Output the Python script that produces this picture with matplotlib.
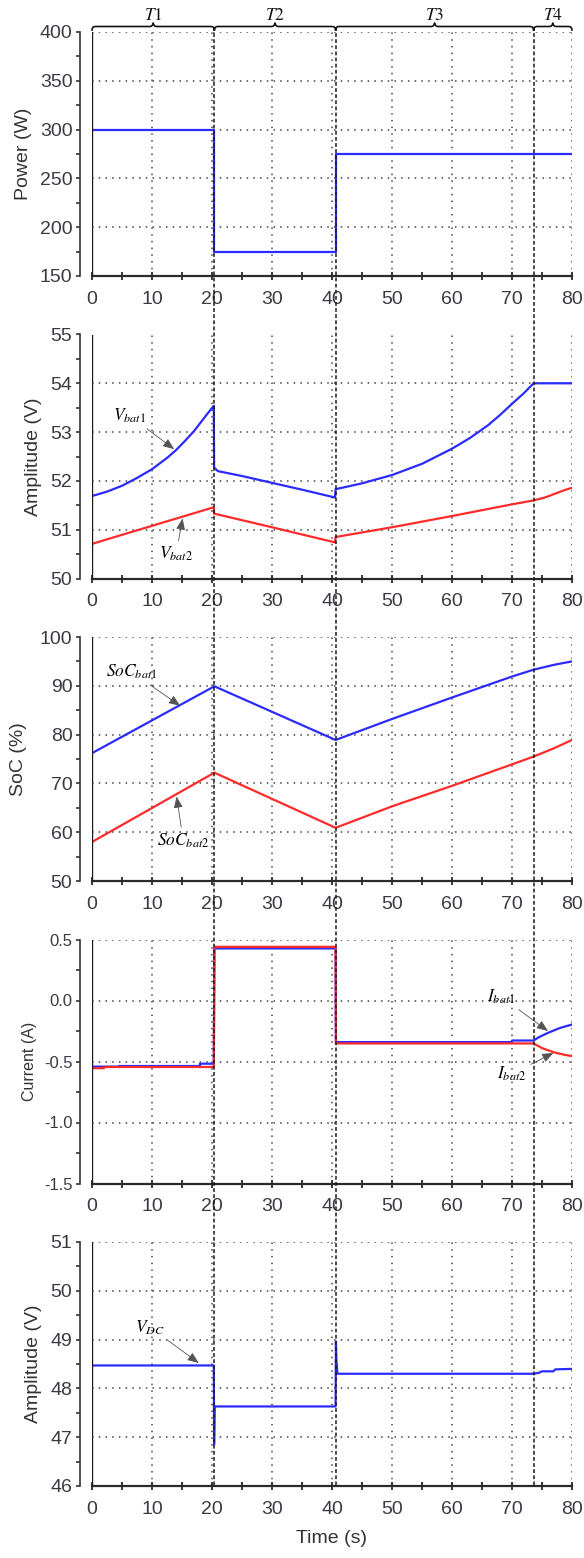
import numpy as np
import matplotlib.pyplot as plt
import matplotlib.transforms as mtransforms
from matplotlib.lines import Line2D
from matplotlib.ticker import MultipleLocator

plt.rcParams['font.family'] = ['Liberation Sans', 'DejaVu Sans']
plt.rcParams['mathtext.fontset'] = 'stix'
plt.rcParams['axes.unicode_minus'] = False

# --- data ---
# boundaries of the periods T1..T4 (s)
t_marks = [20.4, 40.6, 73.6]
periods = ['T1', 'T2', 'T3', 'T4']

# power demand
t_pow = [0, 20.3, 20.3, 40.6, 40.6, 80]
power = [300, 300, 175, 175, 275, 275]

# battery voltages
t_vbat1 = [0, 2.5, 5, 7.5, 10, 12.5, 14, 15.5, 17, 18, 19, 20.3, 20.35, 21, 25, 30, 35,
           40.5, 40.6, 45, 50, 55, 60, 63, 66, 68, 70, 72, 73.6, 80]
vbat1 = [51.69, 51.78, 51.9, 52.06, 52.24, 52.47, 52.63, 52.82, 53.02, 53.18, 53.34, 53.54,
         52.27, 52.2, 52.1, 51.96, 51.82, 51.66, 51.83, 51.95, 52.12, 52.35, 52.66, 52.88,
         53.14, 53.35, 53.58, 53.8, 54.0, 54.0]
t_vbat2 = [0, 20.3, 20.35, 30, 40.5, 40.6, 50, 60, 70, 73.6, 75.5, 77, 78.5, 80]
vbat2 = [50.71, 51.46, 51.33, 51.05, 50.74, 50.85, 51.05, 51.28, 51.52, 51.6, 51.66, 51.73,
         51.8, 51.86]

# state of charge
t_soc = [0, 20.4, 40.6, 50, 60, 70, 73.6, 77, 80]
soc1 = [76.2, 89.9, 78.9, 83.2, 87.6, 91.9, 93.3, 94.3, 95.0]
soc2 = [58.0, 72.2, 60.9, 65.3, 69.5, 73.9, 75.5, 77.2, 78.9]

# battery currents
t_ibat1 = [0, 4.5, 4.5, 18, 18, 20.3, 20.4, 40.6, 40.65, 70, 70, 73.6, 74.5, 76, 78, 80]
ibat1 = [-0.542, -0.542, -0.537, -0.537, -0.518, -0.518, 0.427, 0.427, -0.341, -0.341,
         -0.328, -0.328, -0.300, -0.265, -0.225, -0.197]
t_ibat2 = [0, 2, 2, 20.3, 20.4, 40.6, 40.65, 73.6, 75, 77, 79, 80]
ibat2 = [-0.555, -0.555, -0.545, -0.545, 0.44, 0.44, -0.352, -0.352, -0.39, -0.425,
         -0.448, -0.455]

# DC bus voltage
t_vdc = [0, 20.3, 20.35, 20.45, 40.6, 40.65, 40.75, 40.8, 40.9, 73.6, 74.5, 75, 76.9, 77.2, 80]
vdc = [48.47, 48.47, 46.85, 47.63, 47.63, 48.96, 48.52, 48.5, 48.3, 48.3, 48.32, 48.35,
       48.35, 48.39, 48.40]

BLUE = '#2b2bff'
RED = '#ff2b2b'
DARK = '#2a2a2a'
TXT = '#3a3a44'

W, H = 584, 1558
fig = plt.figure(figsize=(W / 100, H / 100), dpi=100)

tops = [32, 334.5, 637, 939.5, 1242]
ph = 244
axes = [fig.add_axes([92 / W, 1 - (t + ph) / H, 480 / W, ph / H]) for t in tops]


def setup(ax, ylim, ystep, ylabel, lab_x, lab_size=14, ytick_size=14):
    ax.set_xlim(0, 80)
    ax.set_ylim(*ylim)
    ax.xaxis.set_major_locator(MultipleLocator(10))
    ax.xaxis.set_minor_locator(MultipleLocator(5))
    ax.yaxis.set_major_locator(MultipleLocator(ystep))
    ax.yaxis.set_minor_locator(MultipleLocator(ystep / 2))
    ax.spines['top'].set_visible(False)
    ax.spines['right'].set_visible(False)
    ax.spines['left'].set_position(('outward', 8.6))
    ax.spines['left'].set_linewidth(1.2)
    ax.spines['left'].set_color('#333333')
    ax.spines['bottom'].set_linewidth(1.6)
    ax.spines['bottom'].set_color(DARK)
    ax.tick_params(axis='x', which='both', direction='inout', length=5.5, width=1.3,
                   pad=8, labelsize=14, color=DARK, labelcolor=TXT)
    ax.tick_params(axis='y', which='both', direction='out', length=3, width=1.2,
                   pad=2.5, labelsize=ytick_size, color='#333333', labelcolor=TXT)
    ax.grid(True, which='major', color='#444444', linestyle=(0, (1, 3.4)), linewidth=1.1)
    ax.axvline(0, color='#1a1a1a', lw=1.7, zorder=3)
    ax.set_ylabel(ylabel, fontsize=lab_size, color='#333333')
    ax.yaxis.set_label_coords(lab_x, 0.5)


arrow = dict(arrowstyle='-|>,head_length=0.55,head_width=0.22', color='#555555',
             lw=0.6, shrinkA=1, shrinkB=0)

# Power
ax = axes[0]
setup(ax, (150, 400), 50, 'Power (W)', -0.125)
ax.plot(t_pow, power, color=BLUE, lw=1.6)

# Battery voltages
ax = axes[1]
setup(ax, (50, 55), 1, 'Amplitude (V)', -0.105)
ax.plot(t_vbat1, vbat1, color=BLUE, lw=1.6)
ax.plot(t_vbat2, vbat2, color=RED, lw=1.6)
ax.annotate(r'$V_{bat1}$', xy=(13.7, 52.65), xytext=(6.3, 53.33), fontsize=12.5,
            ha='center', va='center', arrowprops=arrow)
ax.annotate(r'$V_{bat2}$', xy=(15.1, 51.23), xytext=(14.0, 50.5), fontsize=12.5,
            ha='center', va='center', arrowprops=arrow)

# SoC
ax = axes[2]
setup(ax, (50, 100), 10, 'SoC (%)', -0.135)
ax.plot(t_soc, soc1, color=BLUE, lw=1.6)
ax.plot(t_soc, soc2, color=RED, lw=1.6)
ax.annotate(r'$SoC_{bat1}$', xy=(14.7, 85.9), xytext=(6.6, 92.8), fontsize=12.5,
            ha='center', va='center', arrowprops=arrow)
ax.annotate(r'$SoC_{bat2}$', xy=(14.1, 67.3), xytext=(15.2, 58.3), fontsize=12.5,
            ha='center', va='center', arrowprops=arrow)

# Currents
ax = axes[3]
setup(ax, (-1.5, 0.5), 0.5, 'Current (A)', -0.115, lab_size=11.5, ytick_size=12)
ax.yaxis.set_major_formatter(plt.FormatStrFormatter('%.1f'))
ax.plot(t_ibat1, ibat1, color=BLUE, lw=1.6)
ax.plot(t_ibat2, ibat2, color=RED, lw=1.6)
ax.annotate(r'$I_{bat1}$', xy=(76.0, -0.25), xytext=(68.2, 0.03), fontsize=12.5,
            ha='center', va='center', arrowprops=arrow)
ax.annotate(r'$I_{bat2}$', xy=(76.9, -0.43), xytext=(70.0, -0.6), fontsize=12.5,
            ha='center', va='center', arrowprops=arrow)

# DC bus
ax = axes[4]
setup(ax, (46, 51), 1, 'Amplitude (V)', -0.105)
ax.plot(t_vdc, vdc, color=BLUE, lw=1.6)
ax.annotate(r'$V_{DC}$', xy=(17.8, 48.52), xytext=(9.7, 49.25), fontsize=12.5,
            ha='center', va='center', arrowprops=arrow)
ax.set_xlabel('Time (s)', fontsize=14, color='#333333', labelpad=9)

# period markers running through all panels
trans = mtransforms.blended_transform_factory(axes[0].transData, fig.transFigure)
y_brace = 1 - 26.5 / H
y_bot = 1 - (tops[-1] + ph) / H
for x in t_marks:
    fig.add_artist(Line2D([x, x], [y_brace, y_bot], transform=trans, color='#1a1a1a',
                          lw=1.1, ls=(0, (2.5, 1.5)), zorder=5))

# curly braces over the periods (offsets in pixels)
bounds = [0] + t_marks + [80]
u = 80 / 480
dx = [0, 0.5, 1.5, 3, -3, -1.5, -0.5, 0, 0.5, 1.5, 3, -3, -1.5, -0.5, 0]
dy = [-3.5, -1.5, -0.4, 0, 0, 0.5, 1.8, 3.5, 1.8, 0.5, 0, 0, -0.4, -1.5, -3.5]
for i, name in enumerate(periods):
    a, b = bounds[i], bounds[i + 1]
    m = (a + b) / 2
    base = [a] * 4 + [m] * 7 + [b] * 4
    xs = [x0 + d * u for x0, d in zip(base, dx)]
    ys = [y_brace + d / H for d in dy]
    fig.add_artist(Line2D(xs, ys, transform=trans, color='#111111', lw=1.2, zorder=5))
    fig.text(m, 1 - 20.5 / H, '$' + name + '$', transform=trans, ha='center',
             va='baseline', fontsize=12.5, color='#111111')

fig.savefig('out.png', dpi=100)
